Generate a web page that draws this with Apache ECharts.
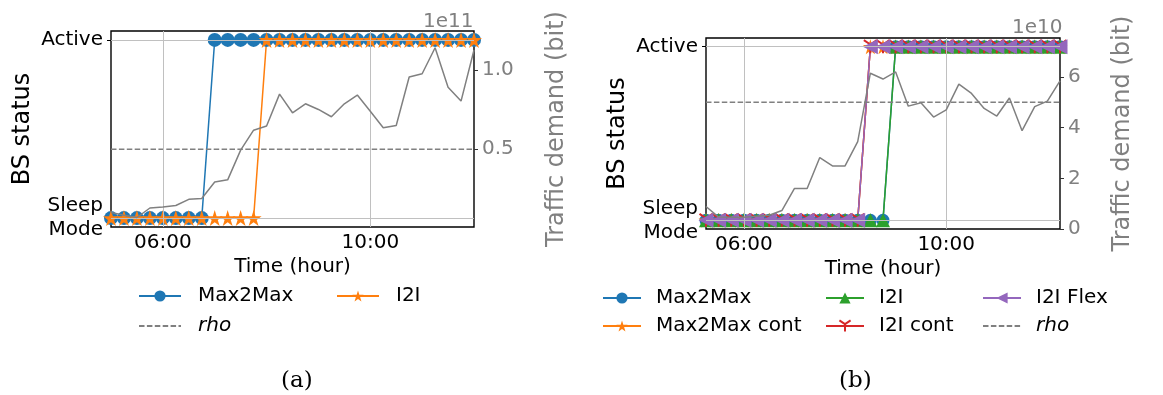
<!DOCTYPE html>
<html><head><meta charset="utf-8">
<script src="https://cdn.jsdelivr.net/npm/echarts@6/dist/echarts.min.js"></script>
<style>html,body{margin:0;padding:0;background:#fff}#c{width:1163px;height:395px}</style>
</head><body><div id="c"></div>
<script>
// ---------- data ----------
const timesA = ['05:00','05:15','05:30','05:45','06:00','06:15','06:30','06:45','07:00','07:15','07:30','07:45','08:00','08:15','08:30','08:45','09:00','09:15','09:30','09:45','10:00','10:15','10:30','10:45','11:00','11:15','11:30','11:45','12:00'];
const timesB = ['05:15','05:30','05:45','06:00','06:15','06:30','06:45','07:00','07:15','07:30','07:45','08:00','08:15','08:30','08:45','09:00','09:15','09:30','09:45','10:00','10:15','10:30','10:45','11:00','11:15','11:30','11:45','12:00','12:15'];

// BS status: 0 = Sleep Mode, 1 = Active
const statusA_Max2Max = [0,0,0,0,0,0,0,0,1,1,1,1,1,1,1,1,1,1,1,1,1,1,1,1,1,1,1,1,1];
const statusA_I2I     = [0,0,0,0,0,0,0,0,0,0,0,0,1,1,1,1,1,1,1,1,1,1,1,1,1,1,1,1,1];

const statusB_Max2Max     = [0,0,0,0,0,0,0,0,0,0,0,0,0,0,0,1,1,1,1,1,1,1,1,1,1,1,1,1,1];
const statusB_Max2MaxCont = [0,0,0,0,0,0,0,0,0,0,0,0,0,1,1,1,1,1,1,1,1,1,1,1,1,1,1,1,1];
const statusB_I2I         = [0,0,0,0,0,0,0,0,0,0,0,0,0,0,0,1,1,1,1,1,1,1,1,1,1,1,1,1,1];
const statusB_I2ICont     = [0,0,0,0,0,0,0,0,0,0,0,0,0,1,1,1,1,1,1,1,1,1,1,1,1,1,1,1,1];
const statusB_I2IFlex     = [0,0,0,0,0,0,0,0,0,0,0,0,0,1,1,1,1,1,1,1,1,1,1,1,1,1,1,1,1];

// traffic demand (A in units of 1e11 bit, B in units of 1e10 bit)
const trafficA = [0.100,0.082,0.068,0.128,0.135,0.144,0.183,0.188,0.293,0.306,0.494,0.620,0.646,0.848,0.730,0.787,0.751,0.705,0.787,0.842,0.740,0.635,0.650,0.956,0.977,1.141,0.892,0.804,1.127];
const trafficB = [0.89,0.47,0.46,0.46,0.50,0.54,0.73,1.60,1.60,2.82,2.49,2.49,3.45,6.15,5.92,6.20,4.85,4.98,4.42,4.70,5.72,5.35,4.76,4.46,5.17,3.88,4.83,5.05,5.85];
const rhoA = 0.5;   // 1e11
const rhoB = 5.0;   // 1e10

const xTickValues = [6, 10];
const xTickLabels = ['06:00', '10:00'];
const statusTickValues = [0, 1];
const statusTickLabels = ['Sleep\nMode', 'Active'];
const trafficTicksA = [0.5, 1.0];
const trafficTicksB = [0, 2, 4, 6];

// ---------- helpers ----------
const FONT = 'DejaVu Sans';
const GRAY = '#808080';
const GRID = '#c0c0c0';
const toHours = t => { const p = t.split(':').map(Number); return p[0] + p[1] / 60; };
const STAR = 'path://M50,0L61.2,34.5L97.6,34.5L68.2,55.9L79.4,90.5L50,69.1L20.6,90.5L31.8,55.9L2.4,34.5L38.8,34.5Z';
const TRIDOWN = 'path://M10,10L10,20M10,10L1.34,5M10,10L18.66,5';

function statusSeries(name, gi, times, values, color, symbol, size, extra) {
  return Object.assign({
    name: name, type: 'line', xAxisIndex: gi, yAxisIndex: gi * 2,
    data: times.map((t, i) => [toHours(t), values[i]]),
    symbol: symbol, symbolSize: size, showSymbol: true,
    lineStyle: { color: color, width: 1.5 },
    itemStyle: { color: color },
    animation: false, silent: true
  }, extra || {});
}
function gridLines(gi, xs, ys) {
  return {
    type: 'line', xAxisIndex: gi, yAxisIndex: gi * 2, data: [], silent: true, animation: false,
    markLine: {
      silent: true, symbol: 'none', label: { show: false }, animation: false,
      lineStyle: { color: GRID, width: 1, type: 'solid' },
      data: xs.map(v => ({ xAxis: v })).concat(ys.map(v => ({ yAxis: v })))
    }
  };
}
function trafficSeries(gi, times, values) {
  return {
    name: 'traffic', type: 'line', xAxisIndex: gi, yAxisIndex: gi * 2 + 1,
    data: times.map((t, i) => [toHours(t), values[i]]),
    symbol: 'none', lineStyle: { color: GRAY, width: 1.5 }, z: 5,
    animation: false, silent: true
  };
}
function rhoSeries(gi, times, rho) {
  return {
    name: 'rho', type: 'line', xAxisIndex: gi, yAxisIndex: gi * 2 + 1,
    data: times.map(t => [toHours(t), rho]),
    symbol: 'none', lineStyle: { color: GRAY, width: 1.5, type: [5.5, 2.4] }, itemStyle: { color: GRAY },
    animation: false, silent: true, z: 4
  };
}
function xAxisCfg(gi, min, max) {
  return {
    gridIndex: gi, type: 'value', min: min, max: max,
    axisLine: { show: false },
    axisTick: { show: true, customValues: xTickValues, length: 4, lineStyle: { color: '#000', width: 1 } },
    axisLabel: { customValues: xTickValues, formatter: v => xTickLabels[xTickValues.indexOf(v)], fontSize: 20, color: '#000', fontFamily: FONT, margin: 6 },
    splitLine: { show: false },
    name: 'Time (hour)', nameLocation: 'middle', nameGap: 30,
    nameTextStyle: { fontSize: 20, color: '#000', fontFamily: FONT }
  };
}
function statusAxisCfg(gi) {
  return {
    gridIndex: gi, type: 'value', position: 'left', min: -0.05, max: 1.05,
    axisLine: { show: false },
    axisTick: { show: true, customValues: statusTickValues, length: 4, lineStyle: { color: '#000' } },
    axisLabel: { customValues: statusTickValues, formatter: v => statusTickLabels[statusTickValues.indexOf(v)],
      fontSize: 20, color: '#000', fontFamily: FONT, margin: 8, lineHeight: 24, align: 'right' },
    splitLine: { show: false },
    name: 'BS status', nameLocation: 'middle', nameRotate: 90, nameGap: 76,
    nameTextStyle: { fontSize: 24, color: '#000', fontFamily: FONT }
  };
}
function trafficAxisCfg(gi, min, max, ticks, fmt, gap) {
  return {
    gridIndex: gi, type: 'value', position: 'right', min: min, max: max,
    axisLine: { show: false },
    axisTick: { show: true, customValues: ticks, length: 4, lineStyle: { color: '#333' } },
    axisLabel: { customValues: ticks, formatter: fmt, fontSize: 20, color: GRAY, fontFamily: FONT, margin: 8 },
    splitLine: { show: false },
    name: 'Traffic demand (bit)', nameLocation: 'middle', nameRotate: 90, nameGap: gap,
    nameTextStyle: { fontSize: 24, color: GRAY, fontFamily: FONT }
  };
}
const legendLabels = { 'I2I (b)': 'I2I' };
function legendItem(name, left, centerY, iw, pad, italic, noSymbol) {
  const l = {
    data: [name], left: left, top: centerY - 7, padding: 0, orient: 'horizontal',
    itemWidth: iw, itemHeight: 14, selectedMode: false,
    formatter: n => legendLabels[n] || n,
    textStyle: { fontSize: 20, color: '#000', fontFamily: FONT, fontStyle: italic ? 'italic' : 'normal', padding: [0, 0, 0, pad] }
  };
  if (noSymbol) l.itemStyle = { opacity: 0 };
  return l;
}

// ---------- chart ----------
const chart = echarts.init(document.getElementById('c'), null, { renderer: 'canvas' });
const option = {
  animation: false,
  textStyle: { fontFamily: FONT },
  grid: [
    { left: 111, top: 31, width: 363, height: 196, show: true, borderColor: '#000', borderWidth: 1.4, backgroundColor: 'transparent', containLabel: false },
    { left: 706, top: 38, width: 354, height: 191, show: true, borderColor: '#000', borderWidth: 1.4, backgroundColor: 'transparent', containLabel: false }
  ],
  xAxis: [ xAxisCfg(0, toHours(timesA[0]), toHours(timesA[timesA.length - 1])),
           xAxisCfg(1, toHours(timesB[0]), toHours(timesB[timesB.length - 1])) ],
  yAxis: [
    statusAxisCfg(0),
    trafficAxisCfg(0, 0.008, 1.247, trafficTicksA, v => v.toFixed(1), 71),
    statusAxisCfg(1),
    trafficAxisCfg(1, 0, 7.54, trafficTicksB, v => String(v), 51)
  ],
  legend: [
    legendItem('Max2Max', 138, 293, 42, 12),
    legendItem('I2I', 336, 293, 42, 12),
    legendItem('rho', 138, 323, 42, 12, true, true),
    legendItem('Max2Max', 602, 295, 38, 10),
    legendItem('I2I (b)', 825, 295, 38, 10),
    legendItem('I2I Flex', 982, 295, 38, 10),
    legendItem('Max2Max cont', 602, 323, 38, 10),
    legendItem('I2I cont', 825, 323, 38, 10),
    legendItem('rho', 982, 323, 38, 10, true, true)
  ],
  graphic: [
    { type: 'text', left: 423, top: 12, style: { text: '1e11', fontSize: 20, fill: GRAY, fontFamily: FONT } },
    { type: 'text', left: 1012, top: 18, style: { text: '1e10', fontSize: 20, fill: GRAY, fontFamily: FONT } },
    { type: 'text', left: 281, top: 370, style: { text: '(a)', fontSize: 23, fill: '#000', fontFamily: 'DejaVu Serif' } },
    { type: 'text', left: 839, top: 370, style: { text: '(b)', fontSize: 23, fill: '#000', fontFamily: 'DejaVu Serif' } }
  ],
  series: [
    gridLines(0, xTickValues, statusTickValues),
    gridLines(1, xTickValues, statusTickValues),
    statusSeries('Max2Max', 0, timesA, statusA_Max2Max, '#1f77b4', 'circle', 14),
    statusSeries('I2I', 0, timesA, statusA_I2I, '#ff7f0e', STAR, 16),
    trafficSeries(0, timesA, trafficA),
    rhoSeries(0, timesA, rhoA),
    statusSeries('Max2Max', 1, timesB, statusB_Max2Max, '#1f77b4', 'circle', 13),
    statusSeries('Max2Max cont', 1, timesB, statusB_Max2MaxCont, '#ff7f0e', STAR, 15),
    statusSeries('I2I (b)', 1, timesB, statusB_I2I, '#2ca02c', 'triangle', 14),
    statusSeries('I2I cont', 1, timesB, statusB_I2ICont, '#d62728', TRIDOWN, 13,
      { itemStyle: { color: '#d62728', borderColor: '#d62728', borderWidth: 2 } }),
    statusSeries('I2I Flex', 1, timesB, statusB_I2IFlex, '#9467bd', 'triangle', 15, { symbolRotate: 90 }),
    trafficSeries(1, timesB, trafficB),
    rhoSeries(1, timesB, rhoB)
  ]
};
chart.setOption(option);
</script>
</body></html>
